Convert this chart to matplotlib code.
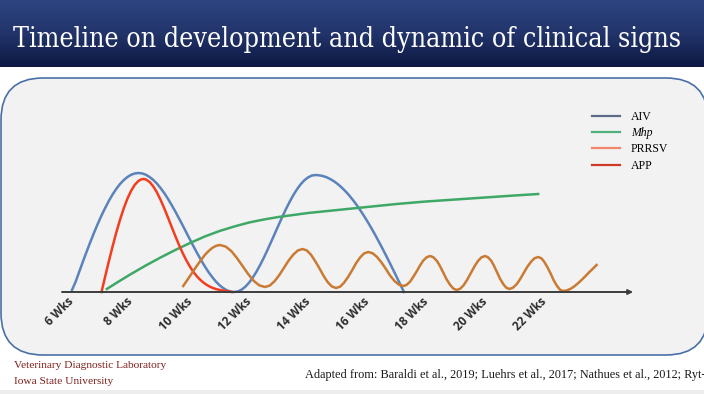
import numpy as np
import matplotlib
matplotlib.use("Agg")
import matplotlib.pyplot as plt
from matplotlib.patches import FancyBboxPatch, Rectangle
from matplotlib.lines import Line2D
from matplotlib.transforms import ScaledTranslation

# timeline ticks (weeks of age)
tick_weeks = [6, 8, 10, 12, 14, 16, 18, 20, 22]
tick_labels = ["6 Wks", "8 Wks", "10 Wks", "12 Wks", "14 Wks", "16 Wks", "18 Wks", "20 Wks", "22 Wks"]

# AIV - two waves (relative level)
aiv_weeks = [6.0, 6.125, 6.25, 6.375, 6.5, 6.625, 6.75, 6.875, 7.0, 7.125,
             7.25, 7.375, 7.5, 7.625, 7.75, 7.875, 8.0, 8.125, 8.25,
             8.375, 8.5, 8.625, 8.75, 8.875, 9.0, 9.125, 9.25, 9.375, 9.5,
             9.625, 9.75, 9.875, 10.0, 10.125, 10.25, 10.375, 10.5, 10.625, 10.75,
             10.875, 11.0, 11.125, 11.25, 11.375, 11.5,
             11.625, 11.75, 11.875, 12.0, 12.125, 12.25, 12.375, 12.5, 12.625, 12.75,
             12.875, 13.0, 13.125, 13.25, 13.375, 13.5, 13.625, 13.75, 13.875, 14.0,
             14.125, 14.25,
             14.375, 14.5, 14.625, 14.75, 14.875, 15.0, 15.125, 15.25, 15.375, 15.5,
             15.625, 15.75, 15.875, 16.0, 16.125, 16.25, 16.375, 16.5, 16.625, 16.75,
             16.875, 17.0, 17.125, 17.25]
aiv_level = [2, 10.4, 20.7, 30.8, 40.7, 50.3, 59.5, 68.3, 76.5, 84.1,
             91.2, 97.5, 103.1, 107.9, 111.8, 114.9, 117.2, 118.5, 119,
             118.6, 117.3, 115.1, 112.2, 108.5, 104.0, 99.0, 93.3, 87.1, 80.6,
             73.7, 66.7, 59.5, 52.3, 45.3, 38.4, 31.9, 25.7, 20.0, 15.0,
             10.5, 6.8, 3.9, 1.7, 0.4, 0,
             0.6, 2.4, 5.3, 9.3, 14.3, 20.2, 26.9, 34.2, 42.0, 50.2,
             58.5, 66.8, 75.0, 82.8, 90.1, 96.8, 102.7, 107.7, 111.7, 114.6,
             116.4, 117,
             116.7, 116.0, 114.8, 113.0, 110.8, 108.1, 104.9, 101.3, 97.3, 92.8,
             88.0, 82.7, 77.1, 71.2, 65.0, 58.5, 51.7, 44.8, 37.6, 30.3,
             22.8, 15.3, 7.7, 0]

# Mhp - slow rise
mhp_weeks = [7.18, 7.5, 8.0, 8.5, 9.0, 9.5, 10.0, 10.5, 11.0, 11.5, 12.0, 12.5,
             13.0, 13.5, 14.0, 15.0, 16.0, 17.0, 18.0, 19.0, 20.0, 21.0, 21.8]
mhp_level = [3, 9, 18, 26.5, 34.5, 42, 49, 55.5, 61, 65.5, 69.5, 72.5,
             75, 77, 79, 82, 85, 88, 90.5, 92.5, 94.5, 96.5, 98]

# PRRSV - recurring waves
prrsv_weeks = [9.77, 9.885, 10.0, 10.125, 10.25, 10.375, 10.5, 10.625, 10.75, 10.885, 11.02,
               11.21, 11.40, 11.59, 11.78, 11.97, 12.16, 12.35, 12.54,
               12.70, 12.86, 13.02, 13.18, 13.34, 13.50, 13.66, 13.82,
               13.96, 14.10, 14.24, 14.39, 14.53, 14.67, 14.81, 14.95,
               15.09, 15.22, 15.36, 15.50, 15.63, 15.77, 15.90, 16.04,
               16.19, 16.34, 16.49, 16.64, 16.78, 16.93, 17.08, 17.23,
               17.34, 17.46, 17.57, 17.69, 17.80, 17.91, 18.03, 18.14,
               18.25, 18.37, 18.48, 18.59, 18.70, 18.82, 18.93, 19.04,
               19.16, 19.28, 19.40, 19.52, 19.64, 19.76, 19.88, 20.0,
               20.10, 20.21, 20.31, 20.41, 20.51, 20.62, 20.72, 20.82,
               20.94, 21.07, 21.19, 21.31, 21.43, 21.56, 21.68, 21.8,
               21.91, 22.01, 22.12, 22.23, 22.33, 22.44, 22.54, 22.65,
               22.77, 22.9, 23.02, 23.15, 23.27, 23.4, 23.52, 23.65, 23.78]
prrsv_level = [6, 11, 16, 21.5, 27, 32, 37, 40.8, 44, 46.2, 47,
               45.4, 40.9, 34.0, 26.0, 18.0, 11.1, 6.6, 5,
               6.4, 10.6, 16.7, 24.0, 31.3, 37.4, 41.6, 43,
               41.5, 37.3, 31.0, 23.5, 16.0, 9.7, 5.5, 4,
               5.4, 9.3, 15.1, 22.0, 28.9, 34.7, 38.6, 40,
               38.7, 35.0, 29.5, 23.0, 16.5, 11.0, 7.3, 6,
               7.1, 10.4, 15.3, 21.0, 26.7, 31.6, 34.9, 36,
               34.7, 31.0, 25.5, 19.0, 12.5, 7.0, 3.3, 2,
               3.3, 7.0, 12.5, 19.0, 25.5, 31.0, 34.7, 36,
               34.7, 31.2, 25.8, 19.5, 13.2, 7.8, 4.3, 3,
               4.2, 7.7, 12.9, 19.0, 25.1, 30.3, 33.8, 35,
               33.7, 30.0, 24.5, 18.0, 11.5, 6.0, 2.3, 1,
               1.6, 3.2, 5.5, 8.7, 12.0, 15.8, 19.5, 23.2, 27]

# APP - single early peak
app_weeks = [7.0, 7.125, 7.25, 7.375, 7.5, 7.625, 7.75, 7.875, 8.0, 8.125,
             8.25, 8.335, 8.42, 8.5, 8.625, 8.75, 8.875, 9.0, 9.125, 9.25,
             9.375, 9.5, 9.625, 9.75, 9.875, 10.0, 10.125, 10.25, 10.375, 10.5,
             10.625, 10.75, 10.875, 11.0, 11.125, 11.25, 11.41]
app_level = [0, 15.6, 30.9, 45.5, 59.4, 72.0, 83.4, 93.1, 101.0, 107.1,
             111.0, 112.5, 113, 112.6, 110.2, 105.8, 99.8, 92.3, 83.8, 74.7,
             65.3, 56.1, 47.2, 39.0, 31.7, 25.2, 19.7, 15.1, 11.4, 8.4,
             6.1, 4.3, 3.0, 2.1, 1.4, 0.9, 0]

legend_names = ["AIV", "Mhp", "PRRSV", "APP"]
legend_colors = ["#5d6b86", "#4fb27a", "#f2866f", "#cf3b29"]

SERIF = ["Liberation Serif", "DejaVu Serif"]
COND_SERIF = ["DejaVu Serif", "Liberation Serif"]


def fit_width(fig, txt, target_px):
    # shrink/grow a text until it is about target_px wide
    r = fig.canvas.get_renderer()
    for _ in range(3):
        w = txt.get_window_extent(renderer=r).width
        txt.set_fontsize(txt.get_fontsize() * target_px / w)


def plot_timeline(output_image_filepath="out.png"):
    fig = plt.figure(figsize=(7.04, 3.94), dpi=100)
    fig.patch.set_facecolor("white")

    # slide background in pixel units
    bg = fig.add_axes([0, 0, 1, 1])
    bg.set_xlim(0, 704)
    bg.set_ylim(394, 0)
    bg.axis("off")

    # title bar gradient
    top = np.array([0x2d, 0x44, 0x80]) / 255
    mid = np.array([0x22, 0x34, 0x6a]) / 255
    bot = np.array([0x0d, 0x18, 0x42]) / 255
    t = np.linspace(0, 1, 100)[:, None]
    grad = np.where(t < 0.5, top + (mid - top) * (t / 0.5), mid + (bot - mid) * ((t - 0.5) / 0.5))
    bg.imshow(grad[:, None, :], extent=[0, 704, 67, 0], aspect="auto", zorder=0)

    title = bg.text(347, 39, "Timeline on development and dynamic of clinical signs",
                    color="white", fontsize=20, family=COND_SERIF, fontstretch="condensed",
                    ha="center", va="center")

    # rounded panel
    panel = FancyBboxPatch((1, 78), 707, 277, boxstyle="round,pad=0,rounding_size=42",
                           fc="#f2f2f2", ec="#4a6fa8", lw=1.2, zorder=1)
    bg.add_patch(panel)
    bg.add_patch(Rectangle((0, 390), 704, 4, fc="#ededed", ec="none", zorder=1))

    # footer
    vdl = bg.text(14, 366, "Veterinary Diagnostic Laboratory", color="#7e1f1c",
                  fontsize=8, family=SERIF, ha="left", va="center")
    isu = bg.text(14, 381, "Iowa State University", color="#7e1f1c",
                  fontsize=8, family=SERIF, ha="left", va="center")
    src = bg.text(305, 375, "Adapted from: Baraldi et al., 2019; Luehrs et al., 2017; Nathues et al., 2012; Ryt-",
                  color="#1a1a1a", fontsize=8, family=SERIF, ha="left", va="center")

    # timeline axes: x in weeks, y relative level
    ax = fig.add_axes([40 / 704, (394 - 292) / 394, 620 / 704, 142 / 394])
    ax.set_facecolor("none")
    ax.set_xlim(4.915, 25.93)
    ax.set_ylim(0, 142)
    for s in ax.spines.values():
        s.set_visible(False)
    ax.set_yticks([])

    ax.annotate("", xy=(25.02, 0), xytext=(5.66, 0),
                arrowprops=dict(arrowstyle="-|>", color="#3c3c3c", lw=1.4, mutation_scale=7,
                                shrinkA=0, shrinkB=0),
                annotation_clip=False)

    lw = 1.8
    ax.plot(aiv_weeks, aiv_level, color="#5b83bb", lw=lw, clip_on=False, label="AIV")
    ax.plot(mhp_weeks, mhp_level, color="#3fa866", lw=lw, clip_on=False, label="Mhp")
    ax.plot(app_weeks, app_level, color="#f23d1f", lw=lw, clip_on=False, label="APP")
    ax.plot(prrsv_weeks, prrsv_level, color="#c97a33", lw=lw, clip_on=False, label="PRRSV")

    ax.set_xticks(tick_weeks)
    ax.set_xticklabels(tick_labels, rotation=45, ha="right", rotation_mode="anchor",
                       fontsize=8.5, fontweight="bold", family=["Open Sans", "DejaVu Sans"],
                       color="#2e2e2e")
    ax.tick_params(axis="x", length=0, pad=3)
    shift = ScaledTranslation(-0.045, 0.01, fig.dpi_scale_trans)
    for lbl in ax.get_xticklabels():
        lbl.set_transform(lbl.get_transform() + shift)

    # legend as drawn on the slide
    handles = [Line2D([], [], color=c, lw=1.6) for c in legend_colors]
    leg = fig.legend(handles, legend_names, loc="upper left",
                     bbox_to_anchor=(592 / 704, 1 - 111 / 394), frameon=False,
                     prop={"family": SERIF, "size": 8.5}, handlelength=2.4,
                     handletextpad=0.9, labelspacing=0.36, borderpad=0, borderaxespad=0)
    leg.get_texts()[1].set_style("italic")

    fit_width(fig, title, 667)
    fit_width(fig, vdl, 153)
    fit_width(fig, src, 399)
    isu.set_fontsize(vdl.get_fontsize())

    fig.savefig(output_image_filepath, dpi=100)


if __name__ == "__main__":
    plot_timeline("out.png")
